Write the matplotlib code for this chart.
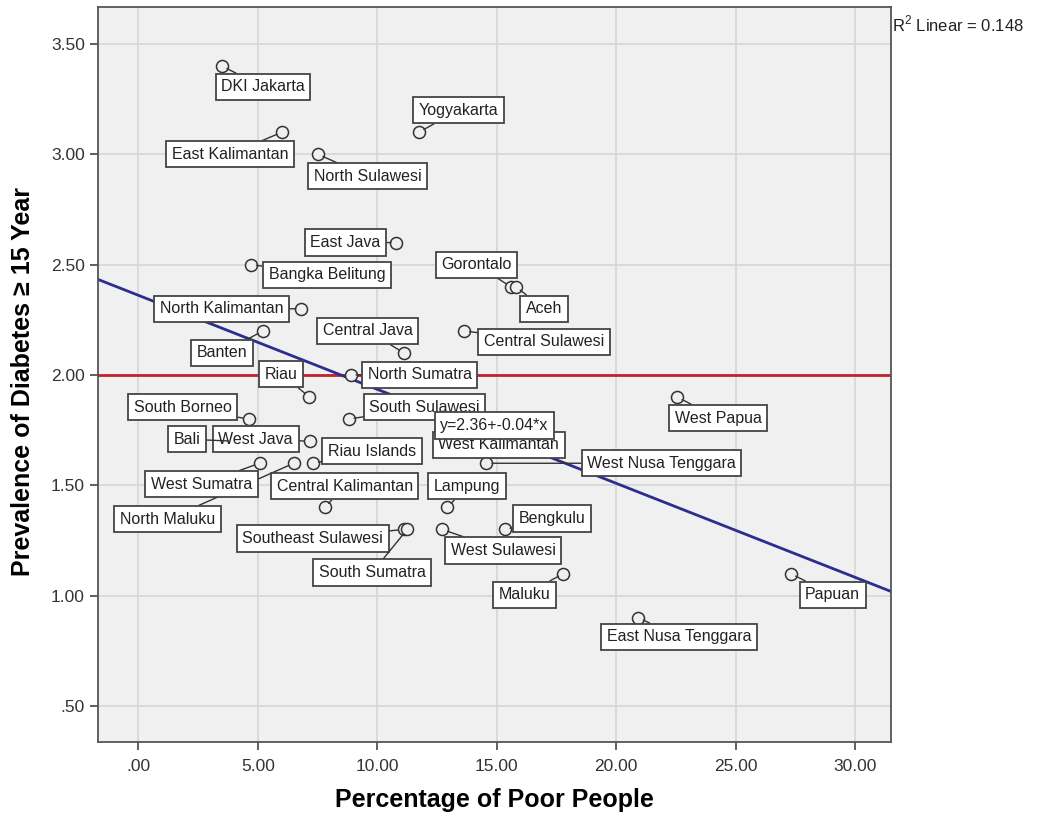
import numpy as np
import matplotlib
matplotlib.use("Agg")
import matplotlib.pyplot as plt
from matplotlib.ticker import FuncFormatter

plt.rcParams['font.family'] = ['Liberation Sans', 'DejaVu Sans']
plt.rcParams['mathtext.fontset'] = 'custom'
plt.rcParams['mathtext.rm'] = 'Liberation Sans'

# provinces: poverty (%) vs diabetes prevalence (%)
provinces = [
    "DKI Jakarta", "Yogyakarta", "East Kalimantan", "North Sulawesi", "East Java",
    "Bangka Belitung", "Gorontalo", "Aceh", "North Kalimantan", "Banten",
    "Central Sulawesi", "Central Java", "North Sumatra", "Riau", "West Papua",
    "South Borneo", "South Sulawesi", "West Java", "Bali", "Riau Islands",
    "West Kalimantan", "West Nusa Tenggara", "North Maluku", "West Sumatra",
    "Central Kalimantan", "Lampung", "Southeast Sulawesi", "South Sumatra",
    "West Sulawesi", "Bengkulu", "Maluku", "Papuan", "East Nusa Tenggara",
]
poverty = [3.50, 11.74, 6.01, 7.51, 10.80, 4.71, 15.58, 15.80, 6.82, 5.22,
           13.63, 11.11, 8.88, 7.16, 22.55, 4.61, 8.80, 7.17, 4.00, 7.31,
           14.20, 14.57, 6.50, 5.07, 7.80, 12.93, 11.10, 11.25, 12.72, 15.33,
           17.79, 27.30, 20.92]
diabetes = [3.40, 3.10, 3.10, 3.00, 2.60, 2.50, 2.40, 2.40, 2.30, 2.20,
            2.20, 2.10, 2.00, 1.90, 1.90, 1.80, 1.80, 1.70, 1.70, 1.60,
            1.72, 1.60, 1.60, 1.60, 1.40, 1.40, 1.30, 1.30, 1.30, 1.30,
            1.10, 1.10, 0.90]

# label box offsets from each point, in pixels
label_offsets = [
    (41, -21), (40, 22), (-52, -22), (50, -22), (-51, 0),
    (76, -10), (-34, 22), (28, -22), (-80, 0), (-41, -22),
    (80, -11), (-36, 22), (69, 0), (-28, 23), (41, -21),
    (-66, 12), (76, 12), (-54, 2), (-47, 2), (59, 12),
    (21, -8), (175, 0), (-126, -56), (-58, -21),
    (20, 21), (20, 21), (-91, -9), (-35, -43),
    (61, -21), (47, 11), (-39, -21), (42, -21), (41, -19),
]

intercept = 2.361
slope = -0.0426
r2 = 0.148
reference_level = 2.0

fig = plt.figure(figsize=(10.38, 8.18), dpi=100)
ax = fig.add_axes([0.0944, 0.0929, 0.7640, 0.8982])
ax.set_facecolor('#f0f0f0')

xmin, xmax = -1.69, 31.5
ax.set_xlim(xmin, xmax)
ax.set_ylim(0.337, 3.666)

ax.set_xticks(np.arange(0, 31, 5))
ax.set_yticks(np.arange(0.5, 3.51, 0.5))
fmt = FuncFormatter(lambda v, p: f"{v:.2f}".lstrip('0') if v < 1 else f"{v:.2f}")
ax.xaxis.set_major_formatter(fmt)
ax.yaxis.set_major_formatter(fmt)
ax.grid(True, color='#d6d6d6', lw=1.2)
ax.set_axisbelow(True)
ax.tick_params(length=6, width=1.2, color='#444444', labelcolor='#333333',
               labelsize=12.5)
ax.tick_params(axis='x', pad=6)
for s in ax.spines.values():
    s.set_color('#555555')
    s.set_linewidth(1.3)

# reference line and fit line
ax.axhline(reference_level, color='#c0232c', lw=2, zorder=2)
xs = np.array([xmin, xmax])
ax.plot(xs, intercept + slope * xs, color='#2b2d8f', lw=2, zorder=2)

ax.scatter(poverty, diabetes, s=75, facecolor='#f0f0f0', edgecolor='#333333',
           linewidth=1.1, zorder=3)

box = dict(boxstyle='square,pad=0.35', fc='white', ec='#444444', lw=1.3)
for name, x, y, off in zip(provinces, poverty, diabetes, label_offsets):
    ax.annotate(name, (x, y), xytext=off, textcoords='offset pixels',
                ha='center', va='center', fontsize=11.5, color='#222222',
                bbox=box, zorder=4,
                arrowprops=dict(arrowstyle='-', color='#333333', lw=1,
                                shrinkA=0, shrinkB=4))

ax.text(14.91, 1.771, f"y={intercept:.2f}+{slope:.2f}*x", ha='center', va='center',
        fontsize=11.5, color='#222222', bbox=box, zorder=5)

fig.text(0.859, 0.970, f"R$^2$ Linear = {r2:.3f}", fontsize=12, color='#222222',
         ha='left', va='center')

ax.set_xlabel("Percentage of Poor People", fontsize=18, fontweight='bold')
ax.xaxis.set_label_coords(0.5, -0.063)
ax.set_ylabel("Prevalence of Diabetes \u2265 15 Year", fontsize=18, fontweight='bold',
              family=['Liberation Sans', 'DejaVu Sans'])
ax.yaxis.set_label_coords(-0.08, 0.49)

fig.savefig("out.png", dpi=100)
